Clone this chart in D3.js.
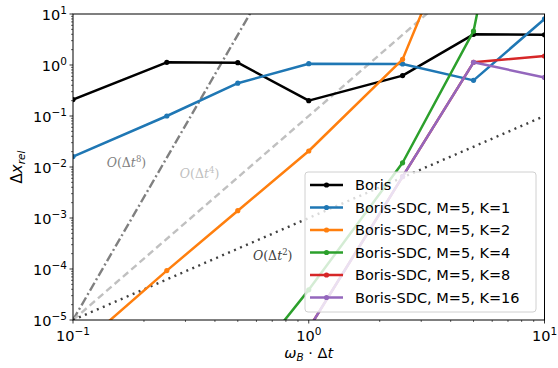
<!DOCTYPE html>
<html>
<head>
<meta charset="utf-8">
<script src="https://cdn.jsdelivr.net/npm/d3@7"></script>
<style>
  html, body { margin: 0; padding: 0; background: #fff; }
  svg { display: block; font-family: "DejaVu Sans", sans-serif; }
</style>
</head>
<body>
<svg id="chart" width="558" height="368"></svg>
<script>
// Time step sizes (omega_B * dt)
const dt = [0.1, 0.25, 0.5, 1, 2.5, 5, 10];

// Relative position error per method
const boris   = [0.21, 1.13, 1.11, 0.2, 0.62, 4.0, 3.9];
const sdcK1   = [0.016, 0.1, 0.44, 1.06, 1.05, 0.5, 8.0];
const sdcK2   = [2.3e-6, 9.3e-5, 1.39e-3, 0.0206, 1.29, 3000, 8e4];
const sdcK4   = [1e-10, 3e-9, 7e-7, 3.9e-5, 0.0121, 4.6, 3e7];
const sdcK8   = [1e-10, 1e-9, 1e-7, 6.8e-6, 6.5e-3, 1.13, 1.5];
const sdcK16  = [1e-10, 1e-9, 1e-7, 6.8e-6, 6.5e-3, 1.13, 0.57];

const seriesNames  = ["Boris", "Boris-SDC, M=5, K=1", "Boris-SDC, M=5, K=2",
                      "Boris-SDC, M=5, K=4", "Boris-SDC, M=5, K=8", "Boris-SDC, M=5, K=16"];
const seriesValues = [boris, sdcK1, sdcK2, sdcK4, sdcK8, sdcK16];
const seriesColors = ["#000000", "#1f77b4", "#ff7f0e", "#2ca02c", "#d62728", "#9467bd"];

// Reference convergence orders, anchored at (0.1, 1e-5)
const refOrders = [8, 4, 2];
const refColors = ["#808080", "#c0c0c0", "#404040"];
const refDash   = ["9,3,2,3", "7,4", "2,4.5"];
const refLabelX = [0.139, 0.284, 0.58];
const refLabelY = [0.01, 6.1e-3, 1.5e-4];

const xTicks = [0.1, 1, 10];
const yTicks = [1e-5, 1e-4, 1e-3, 1e-2, 1e-1, 1, 10];

const svg = d3.select("#chart");
const L = 73, R = 544.5, T = 14, B = 320;

const x = d3.scaleLog().domain([0.1, 10]).range([L, R]);
const y = d3.scaleLog().domain([1e-5, 10]).range([B, T]);

svg.append("defs").append("clipPath").attr("id", "plotclip")
  .append("rect").attr("x", L).attr("y", T).attr("width", R - L).attr("height", B - T);

const plot = svg.append("g").attr("clip-path", "url(#plotclip)");

// Reference slope lines
refOrders.forEach((p, i) => {
  const pts = [0.1, 10].map(v => [v, 1e-5 * Math.pow(v / 0.1, p)]);
  plot.append("path")
    .attr("d", d3.line().x(d => x(d[0])).y(d => y(d[1]))(pts))
    .attr("fill", "none")
    .attr("stroke", refColors[i])
    .attr("stroke-width", 2.4)
    .attr("stroke-dasharray", refDash[i]);
});

// Data series
const line = d3.line().x((d, i) => x(dt[i])).y(d => y(d));
seriesValues.forEach((vals, s) => {
  const g = plot.append("g");
  g.append("path")
    .attr("d", line(vals))
    .attr("fill", "none")
    .attr("stroke", seriesColors[s])
    .attr("stroke-width", 2.5)
    .attr("stroke-linejoin", "round");
  g.selectAll("circle").data(vals).join("circle")
    .attr("cx", (d, i) => x(dt[i]))
    .attr("cy", d => y(d))
    .attr("r", 2.6)
    .attr("fill", seriesColors[s]);
});

// Order labels
const orderSup = ["8", "4", "2"];
refOrders.forEach((p, i) => {
  const t = svg.append("text")
    .attr("x", x(refLabelX[i]))
    .attr("y", y(refLabelY[i]))
    .attr("fill", refColors[i])
    .attr("font-family", "'DejaVu Serif', 'Liberation Serif', serif")
    .attr("font-size", 12.5);
  t.append("tspan").attr("font-style", "italic").text("O");
  t.append("tspan").text("(Δ");
  t.append("tspan").attr("font-style", "italic").text("t");
  t.append("tspan").attr("font-size", 8.5).attr("dy", -5).text(orderSup[i]);
  t.append("tspan").attr("dy", 5).text(")");
});

// Frame
svg.append("rect").attr("x", L).attr("y", T).attr("width", R - L).attr("height", B - T)
  .attr("fill", "none").attr("stroke", "#000").attr("stroke-width", 1);

// Minor tick positions
function minors(lo, hi) {
  const out = [];
  for (let e = Math.floor(Math.log10(lo)); e < Math.ceil(Math.log10(hi)); e++) {
    for (let k = 2; k <= 9; k++) {
      const v = k * Math.pow(10, e);
      if (v > lo && v < hi) out.push(v);
    }
  }
  return out;
}

function expLabel(sel, v) {
  const e = Math.round(Math.log10(v));
  sel.append("tspan").text("10");
  sel.append("tspan").attr("font-size", 10.5).attr("dy", -6)
    .text(e < 0 ? "\u2212" + (-e) : String(e));
}

// X axis
const xa = svg.append("g");
xa.selectAll("line.mj").data(xTicks).join("line")
  .attr("x1", d => x(d)).attr("x2", d => x(d)).attr("y1", B).attr("y2", B + 3.5)
  .attr("stroke", "#000").attr("stroke-width", 0.8);
xa.selectAll("line.mn").data(minors(0.1, 10)).join("line")
  .attr("x1", d => x(d)).attr("x2", d => x(d)).attr("y1", B).attr("y2", B + 2)
  .attr("stroke", "#000").attr("stroke-width", 0.6);
xTicks.forEach(v => {
  const t = xa.append("text").attr("x", x(v)).attr("y", B + 21)
    .attr("text-anchor", "middle").attr("font-size", 14.5).attr("fill", "#000");
  expLabel(t, v);
});

// Y axis
const ya = svg.append("g");
ya.selectAll("line.mj").data(yTicks).join("line")
  .attr("x1", L - 3.5).attr("x2", L).attr("y1", d => y(d)).attr("y2", d => y(d))
  .attr("stroke", "#000").attr("stroke-width", 0.8);
ya.selectAll("line.mn").data(minors(1e-5, 10)).join("line")
  .attr("x1", L - 2).attr("x2", L).attr("y1", d => y(d)).attr("y2", d => y(d))
  .attr("stroke", "#000").attr("stroke-width", 0.6);
yTicks.forEach(v => {
  const t = ya.append("text").attr("x", L - 6).attr("y", y(v) + 5.5)
    .attr("text-anchor", "end").attr("font-size", 14.5).attr("fill", "#000");
  expLabel(t, v);
});

// Axis titles
const xt = svg.append("text").attr("x", x(1)).attr("y", 358)
  .attr("text-anchor", "middle").attr("font-size", 14.5);
xt.append("tspan").attr("font-style", "italic").text("ω");
xt.append("tspan").attr("font-style", "italic").attr("font-size", 10.5).attr("dy", 3).text("B");
xt.append("tspan").attr("dy", -3).text(" · Δ");
xt.append("tspan").attr("font-style", "italic").text("t");

const yt = svg.append("text").attr("transform", `translate(22, ${(T + B) / 2}) rotate(-90)`)
  .attr("text-anchor", "middle").attr("font-size", 15);
yt.append("tspan").text("Δ");
yt.append("tspan").attr("font-style", "italic").text("x");
yt.append("tspan").attr("font-style", "italic").attr("font-size", 10.5).attr("dy", 3).text("rel");

// Legend
const lg = svg.append("g");
const lgX = 305, lgY = 172, lgW = 231, lgH = 140, rowH = 22.5;
lg.append("rect").attr("x", lgX).attr("y", lgY).attr("width", lgW).attr("height", lgH)
  .attr("rx", 3).attr("fill", "#fff").attr("fill-opacity", 0.8)
  .attr("stroke", "#d0d0d0").attr("stroke-width", 1);
seriesNames.forEach((name, i) => {
  const cy = lgY + 13 + i * rowH;
  lg.append("line").attr("x1", lgX + 5).attr("x2", lgX + 38).attr("y1", cy).attr("y2", cy)
    .attr("stroke", seriesColors[i]).attr("stroke-width", 2.5);
  lg.append("circle").attr("cx", lgX + 21.5).attr("cy", cy).attr("r", 2.6)
    .attr("fill", seriesColors[i]);
  lg.append("text").attr("x", lgX + 50).attr("y", cy + 5.2)
    .attr("font-size", 14.5).attr("fill", "#000").text(name);
});
</script>
</body>
</html>
